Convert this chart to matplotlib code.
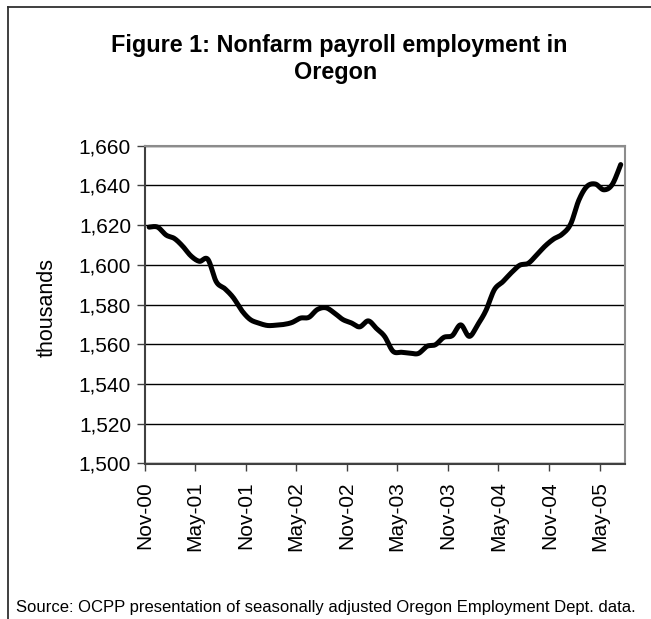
import datetime as dt
import numpy as np
import matplotlib
matplotlib.use("Agg")
import matplotlib.pyplot as plt
import matplotlib.dates as mdates
from matplotlib.lines import Line2D

plt.rcParams["font.family"] = ["Liberation Sans", "DejaVu Sans"]

# Monthly nonfarm payroll employment, thousands (Nov-2000 .. Jul-2005)
start_year, start_month = 2000, 11
employment = [
    1619.0, 1619.0, 1615.0, 1613.3, 1609.5, 1604.5, 1601.8, 1602.8, 1591.5, 1588.0,
    1583.5, 1577.0, 1572.5, 1570.7, 1569.5, 1569.6, 1570.0, 1571.0, 1573.2, 1573.6,
    1577.5, 1578.4, 1575.8, 1572.5, 1570.8, 1568.8, 1571.8, 1568.0, 1564.0, 1556.5,
    1556.0, 1555.6, 1555.4, 1559.0, 1559.8, 1563.5, 1564.4, 1569.8, 1564.0, 1569.8,
    1577.0, 1587.5, 1591.5, 1596.0, 1599.8, 1600.8, 1605.0, 1609.5, 1613.0, 1615.4,
    1620.5, 1632.5, 1639.5, 1640.7, 1637.8, 1640.5, 1650.5,
]
y_ticks = [1500, 1520, 1540, 1560, 1580, 1600, 1620, 1640, 1660]

title_lines = ["Figure 1: Nonfarm payroll employment in", "Oregon"]
y_label = "thousands"
source_note = "Source: OCPP presentation of seasonally adjusted Oregon Employment Dept. data."


def month_start(i):
    m = start_month - 1 + i
    return dt.date(start_year + m // 12, m % 12 + 1, 1)


n = len(employment)
# each monthly value sits in the middle of its month
x_mid = np.array([
    (mdates.date2num(month_start(i)) + mdates.date2num(month_start(i + 1))) / 2
    for i in range(n)
])
y_val = np.array(employment)


def smooth(x, y, per_seg=24):
    """Cardinal (Catmull-Rom) Bezier smoothing through every point."""
    px = np.concatenate([[x[0]], x, [x[-1]]])
    py = np.concatenate([[y[0]], y, [y[-1]]])
    t = np.linspace(0, 1, per_seg, endpoint=False)
    xs, ys = [], []
    for i in range(1, len(px) - 2):
        p0 = np.array([px[i], py[i]])
        p3 = np.array([px[i + 1], py[i + 1]])
        p1 = p0 + (np.array([px[i + 1], py[i + 1]]) - np.array([px[i - 1], py[i - 1]])) / 6
        p2 = p3 - (np.array([px[i + 2], py[i + 2]]) - np.array([px[i], py[i]])) / 6
        b = ((1 - t) ** 3)[:, None] * p0 + (3 * (1 - t) ** 2 * t)[:, None] * p1 \
            + (3 * (1 - t) * t ** 2)[:, None] * p2 + (t ** 3)[:, None] * p3
        xs.append(b[:, 0])
        ys.append(b[:, 1])
    xs.append([x[-1]])
    ys.append([y[-1]])
    return np.concatenate(xs), np.concatenate(ys)


W, H = 651, 619
fig = plt.figure(figsize=(W / 100, H / 100), dpi=100)
ax = fig.add_axes([145 / W, 1 - 463.5 / H, 480 / W, (463.5 - 145.7) / H])

sx, sy = smooth(x_mid, y_val)
ax.plot(sx, sy, color="black", lw=3.6, solid_capstyle="round", solid_joinstyle="round", zorder=3)

ax.set_ylim(y_ticks[0], y_ticks[-1])
ax.set_yticks(y_ticks)
ax.set_yticklabels([f"{v:,}" for v in y_ticks])
ax.yaxis.grid(True, color="black", lw=1.0)
ax.set_axisbelow(True)

x_lo = mdates.date2num(month_start(0))
x_hi = mdates.date2num(month_start(n))
ax.set_xlim(x_lo, x_hi)
tick_dates = [month_start(i) for i in range(0, n, 6)]
ax.set_xticks(mdates.date2num(tick_dates))
ax.set_xticklabels([d.strftime("%b-%y") for d in tick_dates], rotation=90)

ax.tick_params(axis="y", direction="out", length=6, width=1, color="#404040",
               labelsize=15, pad=4)
ax.tick_params(axis="x", direction="out", length=5, width=1, color="#404040",
               labelsize=15, pad=8)

for side in ("top", "right"):
    ax.spines[side].set_color("#8c8c8c")
    ax.spines[side].set_linewidth(1.5)
for side in ("left", "bottom"):
    ax.spines[side].set_color("#404040")
    ax.spines[side].set_linewidth(1.5)

fig.text(47 / W, 1 - 307 / H, y_label, rotation=90, ha="center", va="center", fontsize=15.5)

fig.text(339 / W, 1 - 51.7 / H, title_lines[0], ha="center", va="baseline",
         fontsize=16.8, fontweight="bold")
fig.text(336 / W, 1 - 79.3 / H, title_lines[1], ha="center", va="baseline",
         fontsize=16.8, fontweight="bold")

fig.text(15.5 / W, 1 - 612.3 / H, source_note, ha="left", va="baseline", fontsize=11.95)

# outer chart frame
fig.add_artist(Line2D([8 / W, 8 / W], [0, 1 - 7 / H], transform=fig.transFigure,
                      color="#303030", lw=1.3))
fig.add_artist(Line2D([8 / W, 1], [1 - 7 / H, 1 - 7 / H], transform=fig.transFigure,
                      color="#303030", lw=1.3))

fig.savefig("out.png", dpi=100)
